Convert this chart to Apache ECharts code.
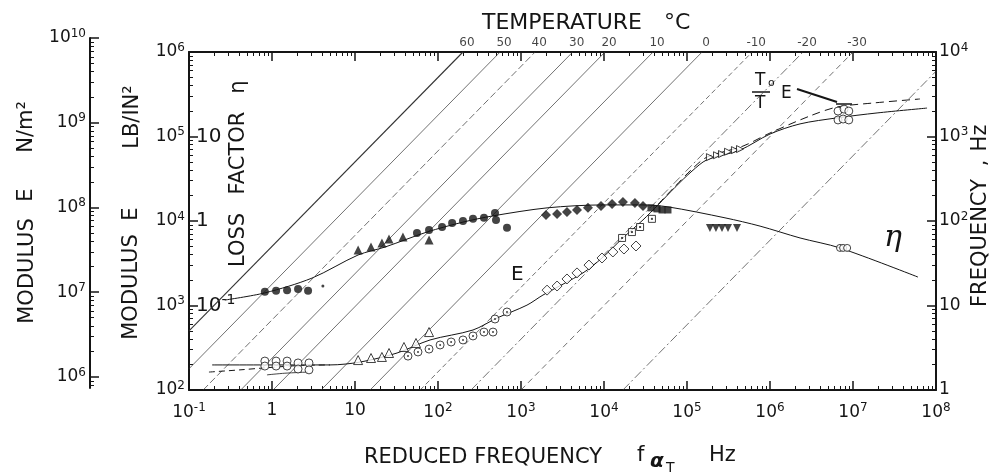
<!DOCTYPE html>
<html>
<head>
<meta charset="utf-8">
<script src="https://cdn.jsdelivr.net/npm/echarts@6/dist/echarts.min.js"></script>
<style>
html, body { margin: 0; padding: 0; background: #fff; }
#chart { width: 990px; height: 474px; }
</style>
</head>
<body>
<div id="chart"></div>
<script>
// isotherms: temperature (deg C) and shift factor a_T read where each line meets the top edge
const isoTemps = [60, 50, 40, 30, 20, 10, 0, -10, -20, -30, -40];
const isoShift = [0.020, 0.056, 0.148, 0.42, 1.03, 3.9, 15.2, 61, 250, 1000, 16900];

// loss factor eta vs reduced frequency (Hz)
const etaCurve = [[0.27, 0.116], [0.82, 0.141], [3.03, 0.211], [10.9, 0.396], [23, 0.492], [73.6, 0.74], [200, 0.97], [460, 1.15], [2060, 1.43], [9730, 1.55], [28700, 1.55], [59000, 1.47], [287000, 1.09], [759000, 0.87], [2.3e6, 0.63], [6.97e6, 0.48], [6.07e7, 0.217]];
const etaCircles = [[0.82, 0.145], [1.12, 0.149], [1.52, 0.152], [2.06, 0.157], [2.72, 0.149]];
const etaDot = [[4.1, 0.17]];
const etaTriangles = [[10.9, 0.454], [15.6, 0.492], [21.1, 0.55], [25.7, 0.612], [37.8, 0.647], [78, 0.596]];
const etaCircles2 = [[55.8, 0.72], [78, 0.78], [112, 0.85], [148, 0.95], [200, 1.0], [264, 1.06], [358, 1.09], [486, 1.24], [500, 1.03], [678, 0.83]];
const etaDiamonds = [[2000, 1.18], [2720, 1.21], [3580, 1.28], [4730, 1.35], [6410, 1.43], [9200, 1.51], [12500, 1.59], [16900, 1.68], [23600, 1.63], [29500, 1.51]];
const etaSquares = [[36800, 1.43], [43500, 1.39], [50000, 1.35], [59000, 1.35]];
const etaDownTriangles = [[1.89e5, 0.826], [2.23e5, 0.826], [2.64e5, 0.826], [3.12e5, 0.826], [4.0e5, 0.826]];
const etaOpenCircles = [[6.97e6, 0.48], [7.6e6, 0.48], [8.5e6, 0.48]];

// modulus E (lb/in^2) vs reduced frequency (Hz)
const modCurve = [[0.19, 198], [2.17, 198], [5.0, 198], [11.5, 214], [32.1, 274], [80.2, 391], [264, 513], [514, 711], [1180, 1010], [1840, 1330], [5580, 2430], [9460, 3650], [16900, 6300], [29500, 10300], [44800, 15500], [71600, 25000], [115000, 39000], [174000, 53000], [435000, 69000], [1.0e6, 107000], [2.3e6, 141000], [6.4e6, 166000], [1.95e7, 190000], [7.8e7, 217000]];
// (T0/T) E, where it leaves the E curve
const reducedLow = [[0.174, 163], [0.41, 173], [0.78, 182], [2.17, 195], [5.0, 198]];
const reducedHigh = [[44800, 15800], [71600, 25600], [115000, 41200], [174000, 57000], [473000, 77000], [1.0e6, 110000], [3.03e6, 175000], [6.4e6, 223000], [1.74e7, 249000], [6.4e7, 278000]];
const lowArc = [[0.87, 151], [1.43, 158], [2.72, 163]];
const modCircles = [[0.82, 220], [0.82, 192], [1.12, 220], [1.12, 192], [1.52, 220], [1.52, 192], [2.06, 209], [2.06, 177], [2.79, 209], [2.79, 173]];
const modTriangles = [[10.9, 226], [15.6, 239], [21.1, 246], [25.7, 274], [38.9, 323], [54.3, 360], [78, 485]];
const modDotCircles = [[43.5, 252], [57.4, 282], [78, 305], [106, 341], [144, 370], [200, 391], [264, 436], [358, 485], [460, 485], [486, 692], [678, 838]];
const modDiamonds = [[2060, 1520], [2720, 1700], [3580, 2060], [4730, 2430], [6590, 3010], [9460, 3650], [12800, 4300], [17400, 4660], [24300, 5060]];
const modSquares = [[16500, 6300], [21700, 7400], [27200, 8490], [37800, 10600]];
const modSideTriangles = [[1.89e5, 57000], [2.3e5, 60000], [2.64e5, 62000], [3.12e5, 66000], [3.78e5, 69000], [4.35e5, 71000]];
const modCirclesHigh = [[6.6e6, 157000], [7.6e6, 161000], [8.9e6, 157000]];
const reducedCirclesHigh = [[6.6e6, 200000], [7.8e6, 211000], [8.9e6, 200000]];

const FONT = 'DejaVu Sans';
const INK = '#151515';

function sup (v) {
  const e = Math.round(Math.log10(v));
  if (e === 0) return '1';
  if (e === 1) return '10';
  return '{b|10}{s|' + e + '}';
}
function supRich (size) {
  return {
    b: {fontSize: size, fontFamily: FONT, color: INK},
    s: {fontSize: Math.round(size * 0.7), fontFamily: FONT, color: INK, padding: [0, 0, Math.round(size * 0.55), 0]}
  };
}
// minor tick positions (2..9 in each decade), in log10 units for a plain value axis
function minorValues (lo, hi) {
  let out = [];
  for (let e = Math.floor(Math.log10(lo)); e < Math.log10(hi); e++) {
    for (let k = 2; k <= 9; k++) {
      let v = k * Math.pow(10, e);
      if (v > lo && v < hi) out.push(Math.log10(v));
    }
  }
  return out;
}

const axisLine = {show: true, onZero: false, lineStyle: {color: INK, width: 2}};
function majorAxis (extra) {
  return Object.assign({
    type: 'log',
    axisLine: axisLine,
    axisTick: {show: true, inside: true, length: 9, lineStyle: {color: INK, width: 1.5}},
    splitLine: {show: false},
    minorTick: {show: false}
  }, extra);
}
function minorAxis (extra, lo, hi) {
  return Object.assign({
    type: 'value',
    min: Math.log10(lo),
    max: Math.log10(hi),
    axisLine: {show: false, onZero: false},
    axisTick: {show: true, inside: true, length: 4, customValues: minorValues(lo, hi), lineStyle: {color: INK, width: 1}},
    axisLabel: {show: false},
    splitLine: {show: false}
  }, extra);
}
const tickLabel = {formatter: sup, rich: supRich(17), fontSize: 17, fontFamily: FONT, color: INK};

// isotherm lines, clipped to the plot box
let isoSeries = []
let tempLabels = []
const lineTypes = ['solid', 'solid', [7, 3], 'solid', 'solid', 'solid', 'solid', [5, 3], [9, 3, 2, 3], [6, 4], [9, 3, 2, 3]]
for (let i in isoTemps) {
  let aT = isoShift[i]
  let fr0 = Math.max(0.1, aT)
  let fr1 = Math.min(1e8, aT * 1e4)
  isoSeries.push({
    type: 'line',
    xAxisIndex: 0,
    yAxisIndex: 2,
    data: [[fr0, fr0 / aT], [fr1, fr1 / aT]],
    symbol: 'none',
    silent: true,
    z: 1,
    lineStyle: {color: '#333', width: i == 0 ? 1.1 : 0.7, type: lineTypes[i]}
  })
  if (aT * 1e4 <= 1e8) tempLabels.push([aT * 1e4, 1e4, isoTemps[i]])
}

function marks (data, yIdx, symbol, size, filled, rotate) {
  return {
    type: 'scatter',
    xAxisIndex: 0,
    yAxisIndex: yIdx,
    data: data,
    symbol: symbol,
    symbolSize: size,
    symbolRotate: rotate || 0,
    z: 5,
    itemStyle: filled ? {color: INK} : {color: '#fff', borderColor: INK, borderWidth: 1}
  }
}
function curve (data, yIdx, type, width) {
  return {
    type: 'line',
    xAxisIndex: 0,
    yAxisIndex: yIdx,
    data: data,
    smooth: 0.3,
    symbol: 'none',
    z: 3,
    lineStyle: {color: INK, width: width || 1, type: type || 'solid'}
  }
}

const series = isoSeries.concat([
  {
    type: 'scatter',
    xAxisIndex: 0,
    yAxisIndex: 2,
    data: tempLabels,
    symbolSize: 0,
    clip: false,
    label: {show: true, position: 'top', distance: 3, offset: [4, 0], formatter: p => String(p.value[2]), fontSize: 12, fontFamily: FONT, color: INK}
  },
  curve(etaCurve, 4),
  curve(modCurve, 0),
  curve(reducedLow, 0, [6, 4]),
  curve(reducedHigh, 0, [8, 5]),
  curve(lowArc, 0, 'solid', 0.8),
  marks(etaCircles, 4, 'circle', 8, true),
  marks(etaDot, 4, 'circle', 3, true),
  marks(etaTriangles, 4, 'triangle', 9, true),
  marks(etaCircles2, 4, 'circle', 8, true),
  marks(etaDiamonds, 4, 'diamond', 10, true),
  marks(etaSquares, 4, 'rect', 7, true),
  marks(etaDownTriangles, 4, 'triangle', 8, true, 180),
  marks(etaOpenCircles, 4, 'circle', 7, false),
  marks(modCircles, 0, 'circle', 8, false),
  marks(modTriangles, 0, 'triangle', 9, false),
  marks(modDotCircles, 0, 'circle', 8, false),
  marks(modDotCircles, 0, 'circle', 2, true),
  marks(modDiamonds, 0, 'diamond', 10, false),
  marks(modSquares, 0, 'rect', 7, false),
  marks(modSquares, 0, 'rect', 2, true),
  marks(modSideTriangles, 0, 'triangle', 7, false, -90),
  marks(modCirclesHigh, 0, 'circle', 8, false),
  marks(reducedCirclesHigh, 0, 'circle', 8, false)
])

function vtext (x, y, text, size) {
  return {type: 'text', x: x, y: y, rotation: Math.PI / 2, style: {text: text, fontSize: size || 21, fontFamily: FONT, fill: INK, align: 'center', verticalAlign: 'middle'}}
}
function htext (x, y, text, size, extra) {
  return {type: 'text', x: x, y: y, style: Object.assign({text: text, fontSize: size || 21, fontFamily: FONT, fill: INK, align: 'left', verticalAlign: 'middle'}, extra || {})}
}
function seg (x1, y1, x2, y2, w) {
  return {type: 'line', shape: {x1: x1, y1: y1, x2: x2, y2: y2}, style: {stroke: INK, lineWidth: w || 1.5}}
}

const option = {
  backgroundColor: '#fff',
  animation: false,
  grid: [
    {left: 189, right: 54, top: 52, bottom: 84},
    {left: 90, top: 38, bottom: 86, width: 20}
  ],
  xAxis: [
    majorAxis({gridIndex: 0, min: 0.1, max: 1e8, position: 'bottom', axisLabel: Object.assign({margin: 12}, tickLabel)}),
    minorAxis({gridIndex: 0, position: 'bottom'}, 0.1, 1e8),
    majorAxis({gridIndex: 0, min: 0.1, max: 1e8, position: 'top', axisLabel: {show: false}}),
    minorAxis({gridIndex: 0, position: 'top'}, 0.1, 1e8),
    {gridIndex: 1, type: 'value', show: false}
  ],
  yAxis: [
    majorAxis({gridIndex: 0, min: 100, max: 1e6, position: 'left', axisLabel: Object.assign({margin: 4}, tickLabel)}),
    minorAxis({gridIndex: 0, position: 'left'}, 100, 1e6),
    majorAxis({gridIndex: 0, min: 1, max: 1e4, position: 'right', axisLabel: Object.assign({margin: 3}, tickLabel)}),
    minorAxis({gridIndex: 0, position: 'right'}, 1, 1e4),
    {
      gridIndex: 0,
      type: 'log',
      min: 0.01,
      max: 100,
      position: 'left',
      axisLine: {show: false, onZero: false},
      axisTick: {show: false},
      splitLine: {show: false},
      axisLabel: {
        inside: true,
        margin: 7,
        fontSize: 20,
        fontFamily: FONT,
        color: INK,
        rich: supRich(20),
        formatter: function (v) {
          if (Math.abs(v - 0.1) < 1e-9) return '{b|10}{s|-1}'
          if (Math.abs(v - 1) < 1e-9) return '1'
          if (Math.abs(v - 10) < 1e-9) return '10'
          return ''
        }
      }
    },
    majorAxis({gridIndex: 1, min: 741000, max: 1e10, position: 'left', axisLabel: Object.assign({margin: 4, showMinLabel: false}, tickLabel)}),
    minorAxis({gridIndex: 1, position: 'left'}, 741000, 1e10)
  ],
  series: series,
  graphic: [
    htext(482, 23, 'TEMPERATURE', 22),
    htext(664, 23, '°C', 22),
    htext(364, 458, 'REDUCED FREQUENCY'),
    htext(637, 456, 'f'),
    htext(650, 462, 'α', 20, {fontWeight: 'bold', fontStyle: 'italic'}),
    htext(666, 468, 'T', 14),
    htext(709, 456, 'Hz'),
    vtext(28, 271, 'MODULUS'),
    vtext(27, 195, 'E'),
    vtext(27, 127, 'N/m²'),
    vtext(132, 287, 'MODULUS'),
    vtext(132, 214, 'E'),
    vtext(133, 117, 'LB/IN²'),
    vtext(239, 240, 'LOSS'),
    vtext(239, 153, 'FACTOR'),
    vtext(239, 87, 'η'),
    vtext(981, 243, 'FREQUENCY'),
    vtext(981, 163, ','),
    vtext(981, 138, 'Hz'),
    htext(511, 275, 'E', 20),
    htext(884, 238, 'η', 30, {fontFamily: 'DejaVu Serif', fontStyle: 'italic'}),
    htext(755, 81, 'T', 17),
    htext(768, 83, 'o', 11),
    seg(752, 92, 770, 92, 1.5),
    htext(755, 104, 'T', 17),
    htext(781, 94, 'E', 17),
    seg(797, 89, 837, 102, 2),
    seg(836, 104, 852, 104, 1.5)
  ]
}

let myChart = echarts.init(document.getElementById('chart'))
myChart.setOption(option)
</script>
</body>
</html>
